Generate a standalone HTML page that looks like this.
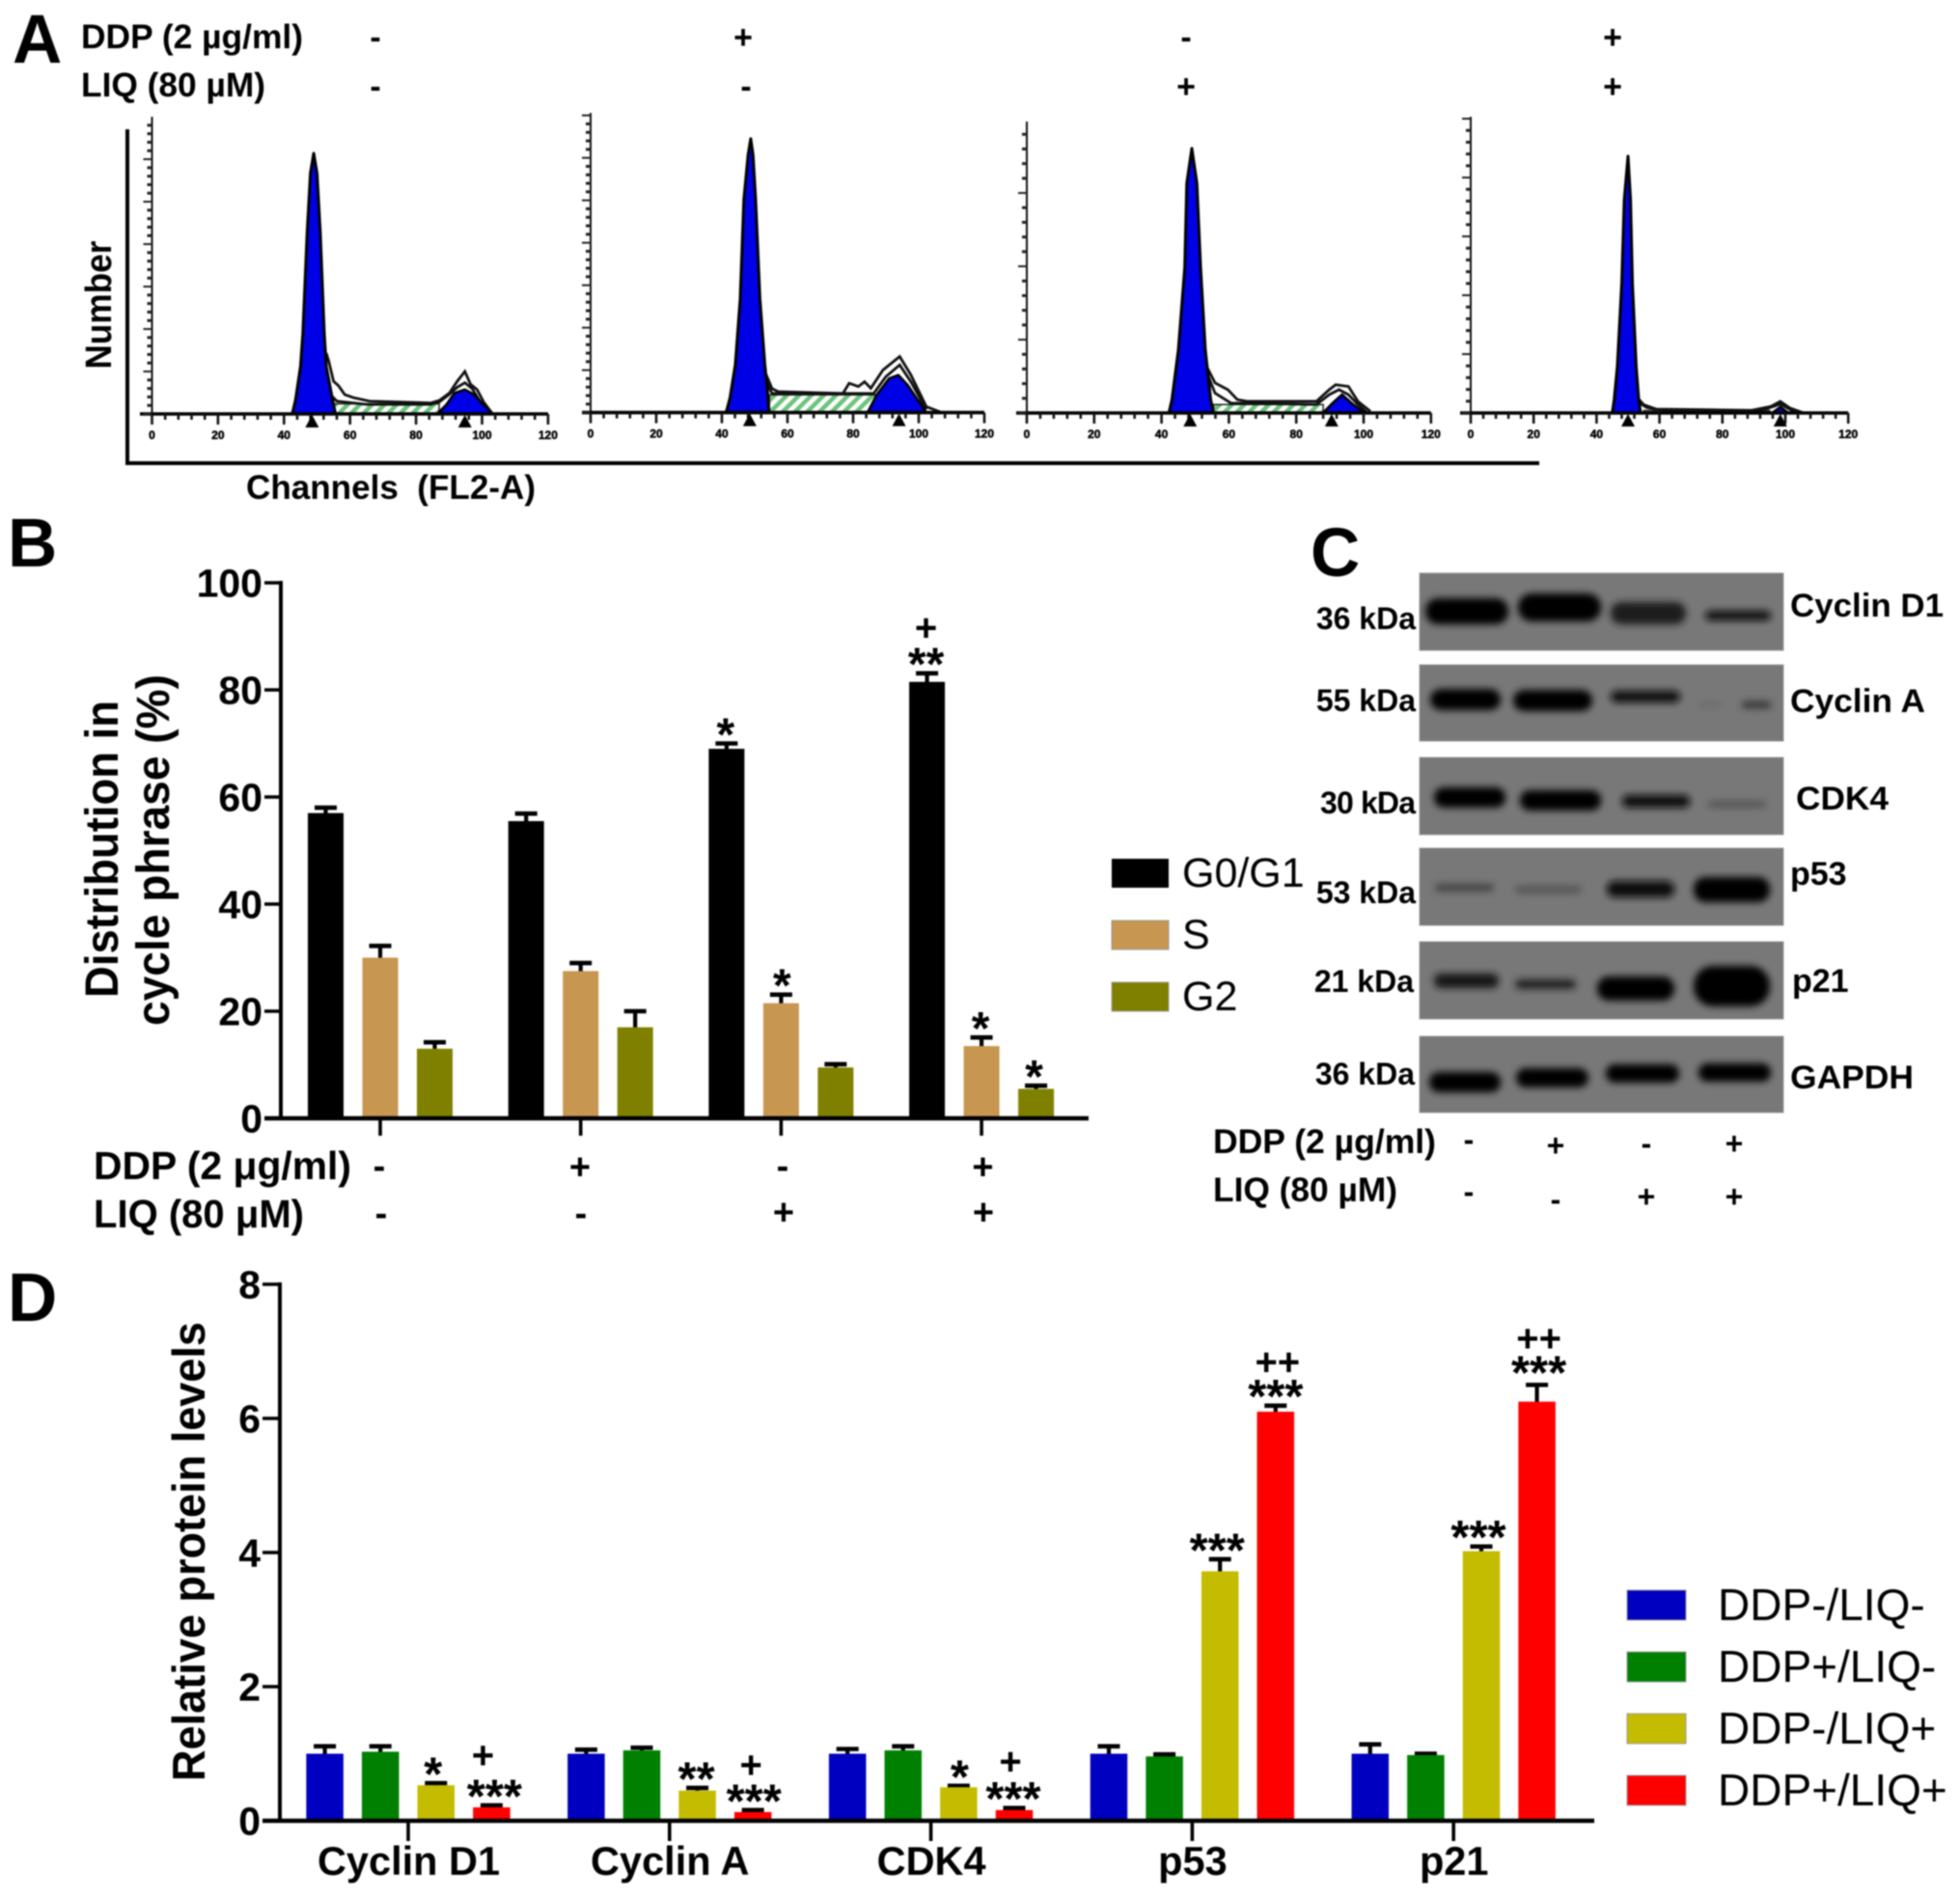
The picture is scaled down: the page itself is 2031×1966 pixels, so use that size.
<!DOCTYPE html>
<html lang="en">
<head>
<meta charset="utf-8">
<title>Cell cycle and protein levels figure</title>
<style>
html,body{margin:0;padding:0;background:#fff;width:2031px;height:1966px;overflow:hidden}
svg{display:block;filter:blur(.8px)}
text{font-family:"Liberation Sans",sans-serif;fill:#000}
.b{font-weight:bold}
</style>
</head>
<body>
<svg id="figure" xmlns="http://www.w3.org/2000/svg" width="2031" height="1966" viewBox="0 0 2031 1966">
<defs>
<pattern id="hatch" width="9" height="9" patternUnits="userSpaceOnUse" patternTransform="rotate(45)">
<rect width="9" height="9" fill="#ffffff"/>
<rect width="4.5" height="9" fill="#6cc47c"/>
</pattern>
<filter id="bandBlur" x="-30%" y="-80%" width="160%" height="260%"><feGaussianBlur stdDeviation="3.6"/></filter>
</defs>
<rect width="2031" height="1966" fill="#fff"/>

<!-- Panel letters -->
<g class="b" font-size="71">
<text x="13" y="65">A</text>
<text x="8" y="587">B</text>
<text x="1358" y="597">C</text>
<text x="8" y="1369">D</text>
</g>

<!-- Panel A header -->
<g class="b" font-size="35">
<text x="84" y="50" textLength="230" lengthAdjust="spacingAndGlyphs">DDP (2 µg/ml)</text>
<text x="84" y="100" textLength="191" lengthAdjust="spacingAndGlyphs">LIQ (80 µM)</text>
<g text-anchor="middle" font-size="34">
<text x="389" y="50">-</text>
<text x="770" y="50">+</text>
<text x="1229" y="50">-</text>
<text x="1671" y="50">+</text>
<text x="389" y="101">-</text>
<text x="773" y="101">-</text>
<text x="1229" y="101">+</text>
<text x="1671" y="101">+</text>
</g>
</g>
<path d="M132 134V480H1595" fill="none" stroke="#000" stroke-width="4"/>
<text class="b" font-size="38" transform="rotate(-90 115 316)" x="115" y="316" text-anchor="middle" textLength="133" lengthAdjust="spacingAndGlyphs">Number</text>
<text class="b" font-size="35" x="255" y="517" textLength="300" lengthAdjust="spacingAndGlyphs" xml:space="preserve">Channels  (FL2-A)</text>
<g id="histograms"></g>

<!-- Panel B static text -->
<g class="b">
<text font-size="48" x="122" y="880" transform="rotate(-90 122 880)" text-anchor="middle" textLength="308" lengthAdjust="spacingAndGlyphs">Distribution in</text>
<text font-size="48" x="175" y="881" transform="rotate(-90 175 881)" text-anchor="middle" textLength="364" lengthAdjust="spacingAndGlyphs">cycle phrase (%)</text>
<text font-size="41" x="97" y="1222" textLength="267" lengthAdjust="spacingAndGlyphs">DDP (2 μg/ml)</text>
<text font-size="41" x="97" y="1272" textLength="218" lengthAdjust="spacingAndGlyphs">LIQ (80 μM)</text>
<g text-anchor="middle" font-size="38">
<text x="393" y="1221">-</text>
<text x="601" y="1222">+</text>
<text x="811" y="1221">-</text>
<text x="1018.5" y="1222">+</text>
<text x="395" y="1270">-</text>
<text x="602" y="1270">-</text>
<text x="812" y="1269">+</text>
<text x="1019" y="1269">+</text>
</g>
</g>
<g id="chartB"></g>
<g font-size="43">
<rect x="1152" y="890" width="59" height="30" fill="#000"/>
<rect x="1152" y="954" width="59" height="30" fill="#c79650" stroke="#999"/>
<rect x="1152" y="1018" width="59" height="30" fill="#808000" stroke="#999"/>
<text x="1225" y="919">G0/G1</text>
<text x="1225" y="983">S</text>
<text x="1225" y="1047">G2</text>
</g>

<!-- Panel C blots -->
<g>
<g>
<rect x="1471" y="594" width="377" height="80" fill="#787878" stroke="#999"/>
<g filter="url(#bandBlur)" fill="#060606">
<rect x="1477" y="620" width="86" height="27" rx="13"/><rect x="1573" y="615" width="86" height="29" rx="14"/><rect x="1669" y="624" width="78" height="23" rx="11" fill="#1a1a1a"/><rect x="1767" y="633" width="68" height="10" rx="5" fill="#111"/>
</g></g>
<g>
<rect x="1471" y="689" width="377" height="79" fill="#787878" stroke="#999"/>
<g filter="url(#bandBlur)" fill="#060606">
<rect x="1482" y="714" width="73" height="22" rx="11"/><rect x="1568" y="715" width="82" height="22" rx="11"/><rect x="1669" y="716" width="72" height="12" rx="6" fill="#111"/><rect x="1760" y="728" width="24" height="4" rx="2" fill="#666"/><rect x="1805" y="727" width="30" height="7" rx="3" fill="#333"/>
</g></g>
<g>
<rect x="1471" y="785" width="377" height="80" fill="#787878" stroke="#999"/>
<g filter="url(#bandBlur)" fill="#060606">
<rect x="1486" y="816" width="74" height="21" rx="10"/><rect x="1575" y="819" width="84" height="21" rx="10"/><rect x="1681" y="824" width="70" height="13" rx="6" fill="#111"/><rect x="1770" y="830" width="60" height="7" rx="3" fill="#555"/>
</g></g>
<g>
<rect x="1471" y="879" width="377" height="80" fill="#787878" stroke="#999"/>
<g filter="url(#bandBlur)" fill="#060606">
<rect x="1487" y="916" width="61" height="8" rx="4" fill="#444"/><rect x="1570" y="918" width="69" height="8" rx="4" fill="#555"/><rect x="1665" y="913" width="70" height="17" rx="8" fill="#111"/><rect x="1755" y="909" width="79" height="26" rx="12"/>
</g></g>
<g>
<rect x="1471" y="976" width="377" height="80" fill="#787878" stroke="#999"/>
<g filter="url(#bandBlur)" fill="#060606">
<rect x="1486" y="1009" width="67" height="15" rx="7" fill="#151515"/><rect x="1570" y="1015" width="63" height="10" rx="5" fill="#222"/><rect x="1655" y="1012" width="80" height="25" rx="12"/><rect x="1755" y="1001" width="79" height="42" rx="20"/>
</g></g>
<g>
<rect x="1471" y="1074" width="377" height="79" fill="#787878" stroke="#999"/>
<g filter="url(#bandBlur)" fill="#060606">
<rect x="1481" y="1111" width="74" height="21" rx="10"/><rect x="1571" y="1107" width="75" height="20" rx="10"/><rect x="1664" y="1103" width="76" height="19" rx="9"/><rect x="1760" y="1102" width="75" height="19" rx="9"/>
</g></g>
</g>
<g class="b" font-size="32" text-anchor="end">
<text x="1467" y="652">36 kDa</text>
<text x="1467" y="737">55 kDa</text>
<text x="1467" y="843" textLength="99" lengthAdjust="spacing">30 kDa</text>
<text x="1467" y="936">53 kDa</text>
<text x="1465" y="1028">21 kDa</text>
<text x="1466" y="1124">36 kDa</text>
</g>
<g class="b" font-size="34">
<text x="1855" y="639" textLength="159" lengthAdjust="spacingAndGlyphs">Cyclin D1</text>
<text x="1855" y="738" textLength="140" lengthAdjust="spacingAndGlyphs">Cyclin A</text>
<text x="1861" y="839" textLength="96" lengthAdjust="spacingAndGlyphs">CDK4</text>
<text x="1855" y="917">p53</text>
<text x="1857" y="1028">p21</text>
<text x="1855" y="1128" textLength="128" lengthAdjust="spacingAndGlyphs">GAPDH</text>
</g>
<g class="b">
<text font-size="35" x="1257" y="1195" textLength="231" lengthAdjust="spacingAndGlyphs">DDP (2 µg/ml)</text>
<text font-size="35" x="1257" y="1245" textLength="191" lengthAdjust="spacingAndGlyphs">LIQ (80 µM)</text>
<g text-anchor="middle" font-size="32">
<text x="1522" y="1192">-</text>
<text x="1612" y="1198">+</text>
<text x="1706" y="1196">-</text>
<text x="1797" y="1196">+</text>
<text x="1522" y="1246">-</text>
<text x="1612" y="1254">-</text>
<text x="1706" y="1251">+</text>
<text x="1797" y="1251">+</text>
</g>
</g>

<!-- Panel D static text -->
<text class="b" font-size="47" x="212" y="1608" transform="rotate(-90 212 1608)" text-anchor="middle" textLength="476" lengthAdjust="spacingAndGlyphs">Relative protein levels</text>
<g id="chartD"></g>
<g font-size="46">
<rect x="1686" y="1648" width="61" height="31" fill="#0000c0" stroke="#999"/>
<rect x="1686" y="1712" width="61" height="31" fill="#008000" stroke="#999"/>
<rect x="1686" y="1776" width="61" height="31" fill="#c4bc00" stroke="#999"/>
<rect x="1686" y="1840" width="61" height="31" fill="#ff0000" stroke="#999"/>
<text x="1780" y="1679">DDP-/LIQ-</text>
<text x="1780" y="1743">DDP+/LIQ-</text>
<text x="1780" y="1807">DDP-/LIQ+</text>
<text x="1780" y="1871">DDP+/LIQ+</text>
</g>
</svg>

<script>
// ---------- Panel B data ----------
const phaseNames = ['G0-G1', 'S', 'G2'];
const phaseColors = ['#000000', '#c79650', '#808000'];
const g0g1Values = [57, 55.5, 69, 81.5];
const sValues = [30, 27.5, 21.5, 13.5];
const g2Values = [13, 17, 9.5, 5.5];
const g0g1Errors = [1, 1.4, 1, 1.6];
const sErrors = [2.2, 1.5, 1.6, 1.6];
const g2Errors = [1.2, 3, 0.6, 0.6];
const bTickLabels = [0, 20, 40, 60, 80, 100];

// ---------- Panel D data ----------
const proteinCategories = ['Cyclin D1', 'Cyclin A', 'CDK4', 'p53', 'p21'];
const groupNames = ['ddp-minus-liq-minus', 'ddp-plus-liq-minus', 'ddp-minus-liq-plus', 'ddp-plus-liq-plus'];
const ctrlValues = [1.0, 1.0, 1.0, 1.0, 1.0];
const ddpValues = [1.03, 1.05, 1.05, 0.96, 0.98];
const liqValues = [0.53, 0.45, 0.5, 3.72, 4.02];
const comboValues = [0.2, 0.13, 0.16, 6.1, 6.25];
const ctrlErrors = [0.11, 0.06, 0.07, 0.11, 0.14];
const ddpErrors = [0.08, 0.04, 0.06, 0.03, 0.02];
const liqErrors = [0.03, 0.04, 0.02, 0.18, 0.07];
const comboErrors = [0.03, 0.03, 0.03, 0.09, 0.25];
const dTickLabels = [0, 2, 4, 6, 8];

// ---------- Panel A histogram data: [channel, count] ----------
const channelTickLabels = [0, 20, 40, 60, 80, 100, 120];
const h1G1Peak = [[42.5,0],[43.5,4.8],[45,16],[45.7,27],[47,60.8],[48,81],[49,87.7],[50,81],[51,60.8],[52.2,27],[52.8,16],[54.7,4.8],[55.6,0]];
const h1G2Peak = [[86.4,0],[89.2,3.1],[91.6,7],[94.8,8.2],[97.6,6.5],[100.4,3.1],[103.2,0]];
const h1Outer = [[52.8,20.5],[53.5,18],[55,11],[56.5,9.5],[58.4,6.5],[61,5.5],[65.9,4.3],[75,4],[84.5,3.7],[87,4.5],[90.1,7],[92.5,11],[94.8,14.3],[96.5,10],[98.5,8.2],[100.5,4],[103.2,0]];
const h1Fit = [[51.8,20],[53,13],[54.5,6],[56,4.3],[65,3.2],[84.5,3.2],[87,4],[90,6.5],[92.5,9],[94.8,10.5],[97,8.5],[99.5,4],[102,0]];
const h1SPhase = [[55,0],[55,3.4],[87,3.4],[87,0]];
const h1Markers = [48.5, 94.8];

const h2G1Peak = [[41.3,0],[42.5,5],[44.1,16],[45.6,38],[46.7,71],[48,86],[48.8,91.4],[49.5,86],[50.3,71],[51.6,38],[53.1,16],[54,6],[54.4,0]];
const h2G2Peak = [[84.4,0],[87.2,5.9],[91,11.4],[93.8,12.5],[96.6,9.2],[102.3,0]];
const h2Outer = [[53.1,13.7],[55.3,8],[57.2,7],[76.9,6.4],[78.8,9.8],[81.6,8.7],[83.5,10.3],[85.4,8.1],[89.1,14.2],[94.2,18.7],[97.6,12.6],[102.3,2],[107,0]];
const h2Fit = [[52.5,12.5],[55.3,6.4],[86.3,6.4],[90,12],[94.2,15.9],[97.6,10.3],[102.3,1]];
const h2SPhase = [[54.5,0],[54.5,5.9],[87,5.9],[87,0]];
const h2Markers = [48.5, 94];

const h3G1Peak = [[42.2,0],[43.1,4.6],[45,21.7],[46.9,50],[47.5,78.8],[49,90.8],[50.5,78.8],[51.6,50],[53,21.7],[54.6,4.6],[55.4,0]];
const h3G2Peak = [[87.9,0],[90.8,3.4],[93.6,6.3],[96.4,3.4],[100.2,0]];
const h3Outer = [[53.1,16.6],[55.9,10.3],[59.7,8],[62.5,4.6],[65.3,4],[86,4],[89.8,8],[91.7,9.7],[95.5,9.1],[98.3,4],[102,0.6]];
const h3Fit = [[53.1,14.8],[55.9,6.8],[60.6,3.4],[86,2.9],[89.8,6.3],[92.7,8],[95.5,6.3],[98.3,2.9],[101,0.2]];
const h3SPhase = [[55.5,0],[55.5,2.9],[88,2.9],[88,0]];
const h3Markers = [48.5, 90.5];

const h4G1Peak = [[45,0],[45.6,4.5],[46.6,15.7],[48,43.8],[48.8,72],[50,86.7],[50.8,72],[51.4,43.8],[52.6,15.7],[53.4,4.5],[54,0]];
const h4G2Peak = [[95.8,0],[98.4,2],[101,0]];
const h4Outer = [[52.6,5.6],[55,2.8],[59,1.3],[89.3,0.9],[95.4,2.2],[98.4,3.9],[101.4,1.7],[105.4,0.2]];
const h4Fit = [[52.6,4],[56,1.8],[61,0.9],[92,0.7],[98.4,3],[103,0.3]];
const h4SPhase = [[55,0],[55,0.8],[95,0.8],[95,0]];
const h4Markers = [50, 98.4];

// ---------- helpers ----------
const SVG_NS = 'http://www.w3.org/2000/svg';
function make(tag, attrs, parent) {
  const node = document.createElementNS(SVG_NS, tag);
  for (const key in attrs) node.setAttribute(key, attrs[key]);
  parent.appendChild(node);
  return node;
}

// ---------- Panel A ----------
function drawHistogram(index, frame, g1, g2, outer, fit, sPhase, markers) {
  const root = document.getElementById('histograms');
  const group = make('g', {}, root);
  
  
  const xScale = function (ch) { return frame.x0 + ch * frame.ppc; };
  const yScale = function (ct) { return frame.base - ct * (frame.base - frame.top) / 100; };
  const pts = function (arr) { return arr.map(function (p) { return xScale(p[0]) + ',' + yScale(p[1]); }).join(' '); };

  const sArea = make('polygon', { points: pts(sPhase), fill: 'url(#hatch)', stroke: '#222', 'stroke-width': 1.5 }, group);
  
  

  const outerLine = make('polyline', { points: pts(outer), fill: 'none', stroke: '#111', 'stroke-width': 2.8 }, group);
  
  

  const fitLine = make('polyline', { points: pts(fit), fill: 'none', stroke: '#111', 'stroke-width': 2.8 }, group);
  
  

  const g1Area = make('polygon', { points: pts(g1), fill: '#0000e6', stroke: '#000', 'stroke-width': 3, 'stroke-linejoin': 'round' }, group);
  
  

  const g2Area = make('polygon', { points: pts(g2), fill: '#0000e6', stroke: '#000', 'stroke-width': 2.6, 'stroke-linejoin': 'round' }, group);
  
  

  const yAxis = make('line', { x1: frame.x0, x2: frame.x0, y1: frame.top, y2: frame.base, stroke: '#111', 'stroke-width': 2 }, group);
  
  

  const xAxis = make('line', { x1: frame.xStart, x2: xScale(120), y1: frame.base, y2: frame.base, stroke: '#000', 'stroke-width': 3.6 }, group);
  
  

  for (let n = 0; frame.base - n * frame.yMinor > frame.top; n++) {
    const yPos = frame.base - n * frame.yMinor;
    const isMajor = n % 5 === 0;
    const yTick = make('line', { x1: frame.x0 - (isMajor ? 9 : 5), x2: frame.x0, y1: yPos, y2: yPos, stroke: '#222', 'stroke-width': isMajor ? 2 : 3 }, group);
    
    
  }
  for (let ch = 0; ch <= 120; ch += 4) {
    const isMajor = ch % 20 === 0;
    const xTick = make('line', { x1: xScale(ch), x2: xScale(ch), y1: frame.base, y2: frame.base + (isMajor ? 11 : 6), stroke: '#111', 'stroke-width': 2.6 }, group);
    
    
  }
  channelTickLabels.forEach(function (label) {
    const text = make('text', { x: xScale(label), y: frame.base + 26, 'font-size': 12, 'font-weight': 'bold', 'text-anchor': 'middle', stroke: '#000', 'stroke-width': 0.5 }, group);
    text.textContent = label;
    
    
  });
  markers.forEach(function (ch) {
    const cx = xScale(ch);
    const tri = make('polygon', { points: (cx - 7) + ',' + (frame.base + 14) + ' ' + (cx + 7) + ',' + (frame.base + 14) + ' ' + cx + ',' + (frame.base + 1), fill: '#000' }, group);
    
    
  });
}
drawHistogram(1, { x0: 157.5, ppc: 3.42, base: 429, top: 121, xStart: 145, yMinor: 8.8 }, h1G1Peak, h1G2Peak, h1Outer, h1Fit, h1SPhase, h1Markers);
drawHistogram(2, { x0: 612, ppc: 3.4, base: 427.6, top: 117, xStart: 603, yMinor: 8.8 }, h2G1Peak, h2G2Peak, h2Outer, h2Fit, h2SPhase, h2Markers);
drawHistogram(3, { x0: 1064, ppc: 3.49, base: 428, top: 126, xStart: 1053, yMinor: 15.2 }, h3G1Peak, h3G2Peak, h3Outer, h3Fit, h3SPhase, h3Markers);
drawHistogram(4, { x0: 1524, ppc: 3.26, base: 428, top: 121, xStart: 1513, yMinor: 12.2 }, h4G1Peak, h4G2Peak, h4Outer, h4Fit, h4SPhase, h4Markers);

// ---------- generic bar-chart parts ----------
function drawBar(root, name, color, cx, width, yScale, value, error) {
  const top = yScale(value);
  const errTop = yScale(value + error);
  const stem = make('line', { x1: cx, x2: cx, y1: top + 1, y2: errTop, stroke: '#000', 'stroke-width': 4.2 }, root);
  
  
  const cap = make('line', { x1: cx - 11.5, x2: cx + 11.5, y1: errTop, y2: errTop, stroke: '#000', 'stroke-width': 4.6 }, root);
  
  
  const bar = make('rect', { x: cx - width / 2, y: top, width: width, height: yScale(0) - top, fill: color }, root);
  
  
}
function drawSig(root, cx, errTopY, stars, starSize, plusText, plusGap, plusDx) {
  const cy = errTopY - 20;
  const starMark = make('text', { x: cx, y: cy + starSize * 0.56, 'font-size': starSize, 'font-weight': 'bold', 'text-anchor': 'middle' }, root);
  starMark.textContent = stars;
  
  
  if (plusText) {
    const plusMark = make('text', { x: cx + plusDx, y: cy - plusGap + 13.4, 'font-size': 40, 'font-weight': 'bold', 'text-anchor': 'middle' }, root);
    plusMark.textContent = plusText;
    
    
  }
}
function drawAxes(root, yScale, ticks, xLeft, xEnd, axisX, catTicks, tickBottom) {
  const yAxis = make('line', { x1: axisX, x2: axisX, y1: yScale(ticks[ticks.length - 1]) - 2, y2: yScale(0) + 2, stroke: '#000', 'stroke-width': 4 }, root);
  
  
  const xAxis = make('line', { x1: xLeft, x2: xEnd, y1: yScale(0), y2: yScale(0), stroke: '#000', 'stroke-width': 4.4 }, root);
  
  
  ticks.forEach(function (t) {
    const tick = make('line', { x1: xLeft, x2: axisX, y1: yScale(t), y2: yScale(t), stroke: '#000', 'stroke-width': 3.6 }, root);
    
    
    const label = make('text', { x: xLeft - 2, y: yScale(t) + 14.5, 'font-size': 41, 'font-weight': 'bold', 'text-anchor': 'end' }, root);
    label.textContent = t;
    
    
  });
  catTicks.forEach(function (x) {
    const tick = make('line', { x1: x, x2: x, y1: yScale(0), y2: tickBottom, stroke: '#000', 'stroke-width': 3.6 }, root);
    
    
  });
}

// ---------- Panel B ----------
const chartB = document.getElementById('chartB');
const yB = function (v) { return 1159 - v * (1159 - 604) / 100; };
const xB = function (g) { return 394 + g * 207.7; };
const bValues = [g0g1Values, sValues, g2Values];
const bErrors = [g0g1Errors, sErrors, g2Errors];
const barCenterB = function (g, s) { return xB(g) + (s - 1) * 56.5; };
bValues.forEach(function (series, s) {
  series.forEach(function (value, g) {
    drawBar(chartB, phaseNames[s] + '-group-' + (g + 1), phaseColors[s], barCenterB(g, s), 37, yB, value, bErrors[s][g]);
  });
});
drawAxes(chartB, yB, bTickLabels, 274, 1128, 291, [0, 1, 2, 3].map(xB), 1177);
const errTopB = function (g, s) { return yB(bValues[s][g] + bErrors[s][g]); };
drawSig(chartB, barCenterB(2, 0) - 1, errTopB(2, 0), '*', 48, '', 0, 0);
drawSig(chartB, barCenterB(3, 0) - 1, errTopB(3, 0), '**', 48, '+', 27, 0);
drawSig(chartB, barCenterB(2, 1) + 1, errTopB(2, 1), '*', 48, '', 0, 0);
drawSig(chartB, barCenterB(3, 1) - 1, errTopB(3, 1), '*', 48, '', 0, 0);
drawSig(chartB, barCenterB(3, 2) - 2, errTopB(3, 2), '*', 48, '', 0, 0);

// ---------- Panel D ----------
const chartD = document.getElementById('chartD');
const yD = function (v) { return 1887 - v * (1887 - 1331) / 8; };
const xD = function (g) { return 423 + g * 270.8; };
const dValues = [ctrlValues, ddpValues, liqValues, comboValues];
const dErrors = [ctrlErrors, ddpErrors, liqErrors, comboErrors];
const dColors = ['#0000c0', '#008000', '#c4bc00', '#ff0000'];
const barCenterD = function (g, s) { return xD(g) + (s - 1.5) * 57.6; };
dValues.forEach(function (series, s) {
  series.forEach(function (value, g) {
    drawBar(chartD, proteinCategories[g].replace(' ', '-').toLowerCase() + '-' + groupNames[s], dColors[s], barCenterD(g, s), 38.5, yD, value, dErrors[s][g]);
  });
});
drawAxes(chartD, yD, dTickLabels, 272, 1652, 290, proteinCategories.map(function (c, g) { return xD(g); }), 1908);
proteinCategories.forEach(function (cat, g) {
  const label = make('text', { x: xD(g) + 0.5, y: 1943, 'font-size': 41.5, 'font-weight': 'bold', 'text-anchor': 'middle' }, chartD);
  label.textContent = cat;
  
  
});
const errTopD = function (g, s) { return yD(dValues[s][g] + dErrors[s][g]); };
drawSig(chartD, barCenterD(0, 2) - 3, errTopD(0, 2), '*', 49, '', 0, 0);
drawSig(chartD, barCenterD(0, 3) + 3, errTopD(0, 3), '***', 49, '+', 32, -12);
drawSig(chartD, barCenterD(1, 2) - 1, errTopD(1, 2), '**', 49, '', 0, 0);
drawSig(chartD, barCenterD(1, 3) + 1, errTopD(1, 3), '***', 49, '+', 27, -3);
drawSig(chartD, barCenterD(2, 2) + 1, errTopD(2, 2), '*', 49, '', 0, 0);
drawSig(chartD, barCenterD(2, 3) - 1, errTopD(2, 3), '***', 49, '+', 28, -3);
drawSig(chartD, barCenterD(3, 2) - 3, errTopD(3, 2), '***', 49, '', 0, 0);
drawSig(chartD, barCenterD(3, 3), errTopD(3, 3), '***', 49, '++', 25, 2);
drawSig(chartD, barCenterD(4, 2) - 3, errTopD(4, 2), '***', 49, '', 0, 0);
drawSig(chartD, barCenterD(4, 3) + 2, errTopD(4, 3) - 3, '***', 49, '++', 25, 0);
</script>
</body>
</html>
